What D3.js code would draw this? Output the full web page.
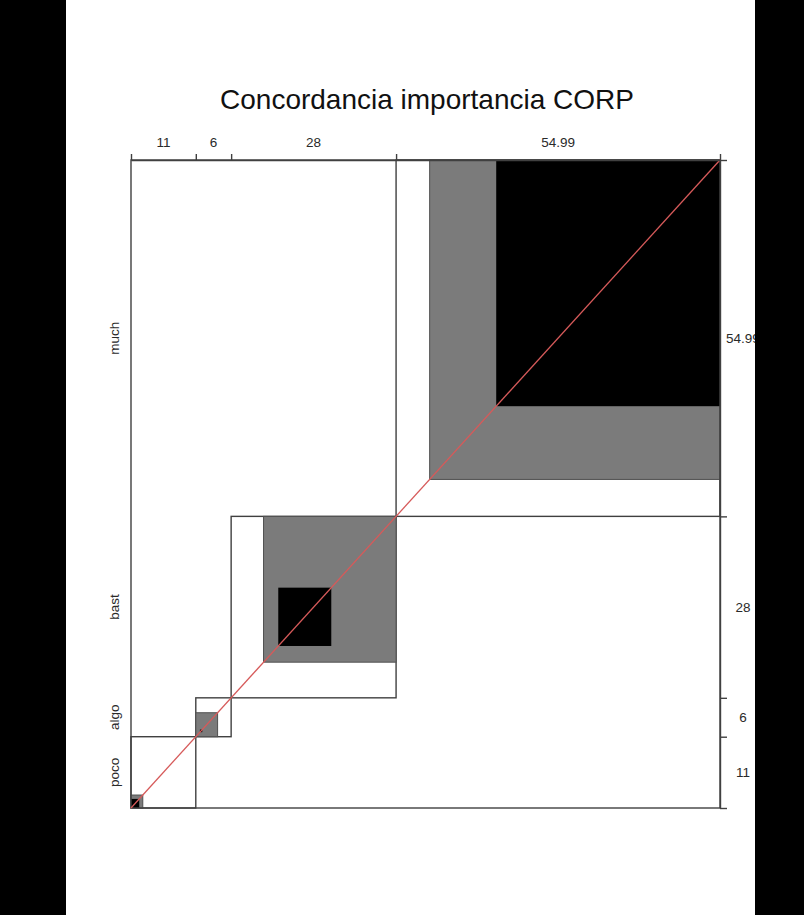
<!DOCTYPE html>
<html>
<head>
<meta charset="utf-8">
<script src="https://cdn.jsdelivr.net/npm/d3@7"></script>
<style>
  html, body { margin: 0; padding: 0; background: #000; }
  svg { display: block; }
</style>
</head>
<body>
<script>
// ---- data ----
const categories = ["poco", "algo", "bast", "much"];
const rowTotals = [11, 6, 28, 54.99];
const colTotals = [11, 6, 28, 54.99];
const rowLabels = ["11", "6", "28", "54.99"];
const colLabels = ["11", "6", "28", "54.99"];
// partial agreement (grey) and exact agreement (black) blocks, offsets from each block's origin
const partialOffset = [0, 0, 5.5, 5.7];
const partialSize = [2.0, 3.7, 22.5, 49.29];
const exactOffset = [0, 0.7, 8, 17];
const exactSize = [1.4, 0.4, 9, 37.99];
const title = "Concordancia importancia CORP";

// ---- layout ----
const W = 804, H = 915;
const svg = d3.select("body").append("svg").attr("width", W).attr("height", H);
svg.append("rect").attr("x", 0).attr("y", 0).attr("width", W).attr("height", H).attr("fill", "#000");
svg.append("rect").attr("x", 66).attr("y", 0).attr("width", 755 - 66).attr("height", H).attr("fill", "#fff");

const total = d3.sum(colTotals);
const x = d3.scaleLinear().domain([0, total]).range([131, 720]);
const y = d3.scaleLinear().domain([0, d3.sum(rowTotals)]).range([808, 160]);

const cumX = [0]; colTotals.forEach((v, i) => cumX.push(cumX[i] + v));
const cumY = [0]; rowTotals.forEach((v, i) => cumY.push(cumY[i] + v));

const stroke = "#404040";
const g = svg.append("g");

categories.forEach((c, i) => {
  const X0 = cumX[i], Y0 = cumY[i];
  // white block
  g.append("rect")
    .attr("x", x(X0)).attr("y", y(Y0 + rowTotals[i]))
    .attr("width", x(X0 + colTotals[i]) - x(X0))
    .attr("height", y(Y0) - y(Y0 + rowTotals[i]))
    .attr("fill", "#fff").attr("stroke", stroke).attr("stroke-width", 1.4);
  // partial agreement
  g.append("rect")
    .attr("x", x(X0 + partialOffset[i])).attr("y", y(Y0 + partialOffset[i] + partialSize[i]))
    .attr("width", x(X0 + partialOffset[i] + partialSize[i]) - x(X0 + partialOffset[i]))
    .attr("height", y(Y0 + partialOffset[i]) - y(Y0 + partialOffset[i] + partialSize[i]))
    .attr("fill", "#7b7b7b").attr("stroke", "#505050").attr("stroke-width", 1);
  // exact agreement
  g.append("rect")
    .attr("x", x(X0 + exactOffset[i])).attr("y", y(Y0 + exactOffset[i] + exactSize[i]))
    .attr("width", x(X0 + exactOffset[i] + exactSize[i]) - x(X0 + exactOffset[i]))
    .attr("height", y(Y0 + exactOffset[i]) - y(Y0 + exactOffset[i] + exactSize[i]))
    .attr("fill", "#000");
});

// frame
g.append("rect")
  .attr("x", x(0)).attr("y", y(total)).attr("width", x(total) - x(0)).attr("height", y(0) - y(total))
  .attr("fill", "none").attr("stroke", stroke).attr("stroke-width", 1.4);

// diagonal
g.append("line")
  .attr("x1", x(0)).attr("y1", y(0)).attr("x2", x(total)).attr("y2", y(total))
  .attr("stroke", "#d65a5a").attr("stroke-width", 1.3);

// top axis (ticks)
const topAxis = d3.axisTop(x).tickValues(cumX).tickSize(6).tickSizeOuter(0).tickFormat("");
const ta = svg.append("g").attr("transform", `translate(0,${y(total)})`).call(topAxis);
ta.selectAll("path, line").attr("stroke", stroke).attr("stroke-width", 1.4);

// right axis (ticks)
const rightAxis = d3.axisRight(y).tickValues(cumY).tickSize(7).tickSizeOuter(0).tickFormat("");
const ra = svg.append("g").attr("transform", `translate(${x(total)},0)`).call(rightAxis);
ra.selectAll("path, line").attr("stroke", stroke).attr("stroke-width", 1.4);

const font = "'Liberation Sans', Arial, Helvetica, sans-serif";

// top labels
colLabels.forEach((t, i) => {
  svg.append("text").attr("x", x(cumX[i] + colTotals[i] / 2)).attr("y", 142)
    .attr("text-anchor", "middle").attr("dominant-baseline", "central")
    .attr("font-family", font).attr("font-size", 13.5).attr("fill", "#2a2a2a").text(t);
});

// right labels
rowLabels.forEach((t, i) => {
  svg.append("text").attr("x", 743).attr("y", y(cumY[i] + rowTotals[i] / 2))
    .attr("text-anchor", "middle").attr("dominant-baseline", "central")
    .attr("font-family", font).attr("font-size", 13.5).attr("fill", "#2a2a2a").text(t);
});

// left category labels
categories.forEach((c, i) => {
  const cy = y(cumY[i] + rowTotals[i] / 2);
  svg.append("text").attr("transform", `translate(114,${cy}) rotate(-90)`)
    .attr("text-anchor", "middle").attr("dominant-baseline", "central")
    .attr("font-family", font).attr("font-size", 13.5).attr("fill", "#2a2a2a").text(c);
});

// title
svg.append("text").attr("x", 427).attr("y", 99)
  .attr("text-anchor", "middle").attr("dominant-baseline", "central")
  .attr("font-family", font).attr("font-size", 28).attr("fill", "#111").text(title);

// right black band on top (clips labels)
svg.append("rect").attr("x", 755).attr("y", 0).attr("width", W - 755).attr("height", H).attr("fill", "#000");
</script>
</body>
</html>
